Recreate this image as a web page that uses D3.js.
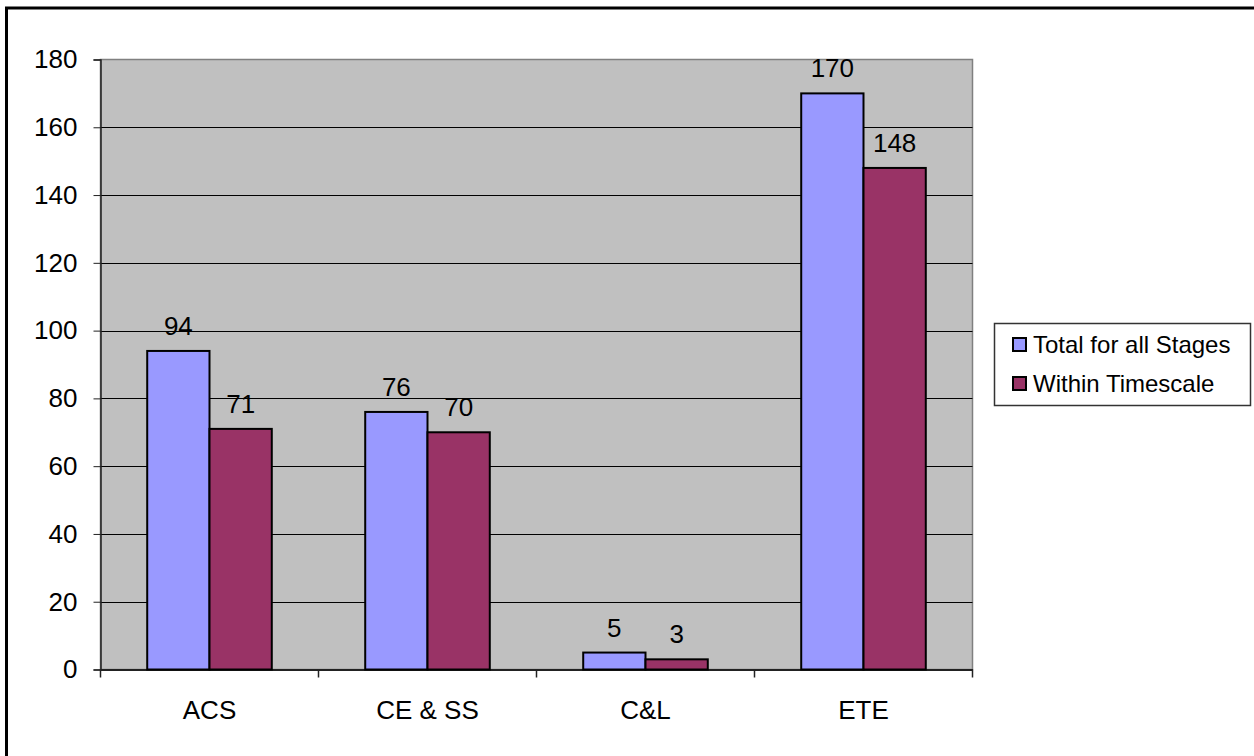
<!DOCTYPE html>
<html><head><meta charset="utf-8">
<script src="https://cdn.jsdelivr.net/npm/d3@7"></script>
<style>html,body{margin:0;padding:0;background:#fff;overflow:hidden}</style>
</head><body>
<svg id="chart" width="1254" height="756"></svg>
<script>
const categories = ["ACS", "CE & SS", "C&L", "ETE"];
const seriesNames = ["Total for all Stages", "Within Timescale"];
const totalForAllStages = [94, 76, 5, 170];
const withinTimescale = [71, 70, 3, 148];
const yTicks = [0, 20, 40, 60, 80, 100, 120, 140, 160, 180];
const seriesColors = ["#9999FF", "#993366"];

const svg = d3.select("#chart");
const font = "'Liberation Sans', Arial, sans-serif";

// outer frame (top and left edges visible)
svg.append("rect").attr("x", 6.5).attr("y", 8).attr("width", 1260).attr("height", 760)
  .attr("fill", "none").attr("stroke", "#000").attr("stroke-width", 3);

const L = 100.5, R = 972.5, T = 59.5, B = 669.5;
const x0 = d3.scaleBand().domain(categories).range([L, R]).paddingInner(0).paddingOuter(0);
const inner = x0.bandwidth() / (2 + 1.5);
const x1 = d3.scaleBand().domain(seriesNames).range([0, 2 * inner]);
const y = d3.scaleLinear().domain([0, 180]).range([B, T]);

svg.append("rect").attr("x", L).attr("y", T).attr("width", R - L).attr("height", B - T)
  .attr("fill", "#C0C0C0").attr("stroke", "#808080").attr("stroke-width", 1.5);

// gridlines
svg.append("g").selectAll("line").data(yTicks.filter(d => d > 0 && d < 180)).join("line")
  .attr("x1", L).attr("x2", R).attr("y1", d => Math.round(y(d)) + 0.5).attr("y2", d => Math.round(y(d)) + 0.5)
  .attr("stroke", "#000").attr("stroke-width", 1);

// y axis
const yAxis = svg.append("g").attr("transform", `translate(${L},0)`)
  .call(d3.axisLeft(y).tickValues(yTicks).tickSize(7).tickPadding(16));
yAxis.select(".domain").attr("stroke", "#222").attr("stroke-width", 1.5);
yAxis.selectAll(".tick line").attr("stroke", "#222");
yAxis.selectAll("text").attr("font-family", font).attr("font-size", 26).attr("fill", "#000");

// x axis
const xAxis = svg.append("g").attr("transform", `translate(0,${B})`)
  .call(d3.axisBottom(x0).tickSize(0).tickPadding(31));
xAxis.select(".domain").attr("stroke", "#222").attr("stroke-width", 2);
xAxis.selectAll("text").attr("font-family", font).attr("font-size", 26).attr("fill", "#000");
const bounds = categories.map(c => x0(c)).concat([x0(categories[categories.length - 1]) + x0.bandwidth()]);
svg.append("g").selectAll("line").data(bounds).join("line")
  .attr("x1", d => d).attr("x2", d => d).attr("y1", B).attr("y2", B + 8)
  .attr("stroke", "#222").attr("stroke-width", 1.5);

// bars
const seriesData = [totalForAllStages, withinTimescale];
seriesData.forEach((vals, si) => {
  const g = svg.append("g");
  g.selectAll("rect").data(vals).join("rect")
    .attr("x", (d, i) => x0(categories[i]) + x0.bandwidth() / 2 - inner + x1(seriesNames[si]))
    .attr("y", d => y(d))
    .attr("width", x1.bandwidth())
    .attr("height", d => y(0) - y(d))
    .attr("fill", seriesColors[si]).attr("stroke", "#000").attr("stroke-width", 2);
  g.selectAll("text").data(vals).join("text")
    .attr("x", (d, i) => x0(categories[i]) + x0.bandwidth() / 2 - inner + x1(seriesNames[si]) + x1.bandwidth() / 2)
    .attr("y", d => y(d) - 16)
    .attr("text-anchor", "middle").attr("font-family", font).attr("font-size", 26).attr("fill", "#000")
    .text(d => d);
});

// legend
const lg = svg.append("g");
lg.append("rect").attr("x", 994.5).attr("y", 323.5).attr("width", 256).attr("height", 82)
  .attr("fill", "#fff").attr("stroke", "#333").attr("stroke-width", 1.5);
seriesNames.forEach((n, i) => {
  const cy = 344 + i * 39;
  lg.append("rect").attr("x", 1013).attr("y", cy - 6).attr("width", 13).attr("height", 13)
    .attr("fill", seriesColors[i]).attr("stroke", "#000").attr("stroke-width", 2);
  lg.append("text").attr("x", 1033).attr("y", cy + 9).attr("font-family", font).attr("font-size", 24)
    .attr("fill", "#000").text(n);
});
</script>
</body></html>
